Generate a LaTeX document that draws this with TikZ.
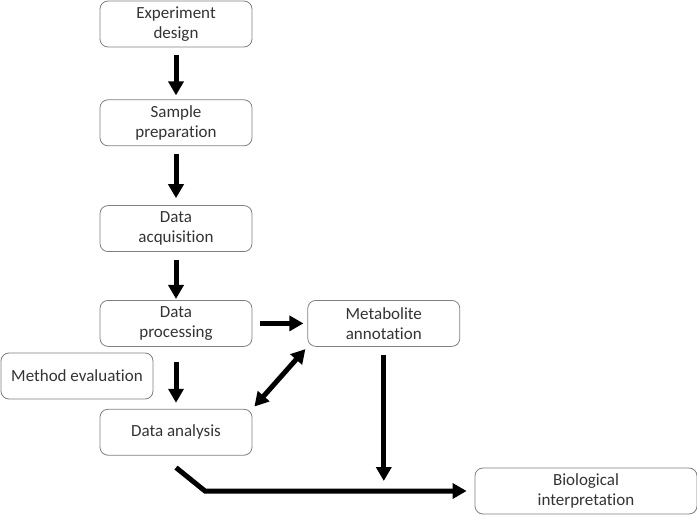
\documentclass[tikz,border=0pt]{standalone}
\usepackage{fontspec}
\setmainfont{Carlito}[Ligatures=NoCommon]
\usetikzlibrary{positioning}
\usetikzlibrary{arrows.meta}

\begin{document}
\begin{tikzpicture}[x=1pt,y=1pt,>={Triangle[length=14pt,width=15pt]},
	line width=5pt,
	step box/.style={draw=black!50,line width=0.8pt,rounded corners=8pt,
		minimum width=152pt,minimum height=46pt,align=center,inner sep=2pt,
		text=black!80,font=\fontsize{17}{20}\selectfont},
	flow/.style={->,shorten <=8pt,shorten >=4pt}]
	
	\useasboundingbox (0,0) rectangle (697,-516);
	
	\node[step box] (design) at (176,-24) {Experiment\\design};
	\node[step box] (sample) [below=52pt of design] {Sample\\preparation};
	\node[step box] (acq) [below=59pt of sample] {Data\\acquisition};
	\node[step box] (proc) [below=48pt of acq] {Data\\processing};
	\node[step box] (analysis) [below=62pt of proc] {Data analysis};
	\node[step box] (annot) [right=55pt of proc] {Metabolite\\annotation};
	\node[step box] (method) at (77,-376) {Method evaluation};
	\node[step box,minimum width=222pt,minimum height=46pt] (bio) at (586,-491) {Biological\\interpretation};
	
	\coordinate (bend) at (205,-491);
	\coordinate (tail) at ([yshift=-12pt]analysis.south);
	\coordinate (join) at (annot.south |- bend);
	
	\draw[flow] (design) -- (sample);
	\draw[flow,shorten >=7pt] (sample) -- (acq);
	\draw[flow,shorten >=1pt] (acq) -- (proc);
	\draw[flow] (proc) -- (annot);
	\draw[flow,shorten <=15pt,shorten >=6pt] (proc) -- (analysis);
	\draw[<->,shorten <=3pt,shorten >=3pt] (analysis.north east) -- (annot.south west);
	\draw[flow,shorten >=10pt] (annot) -- (join);
	\draw[->,shorten >=8pt] (tail) -- (bend) -- (bio);
\end{tikzpicture}
\end{document}
